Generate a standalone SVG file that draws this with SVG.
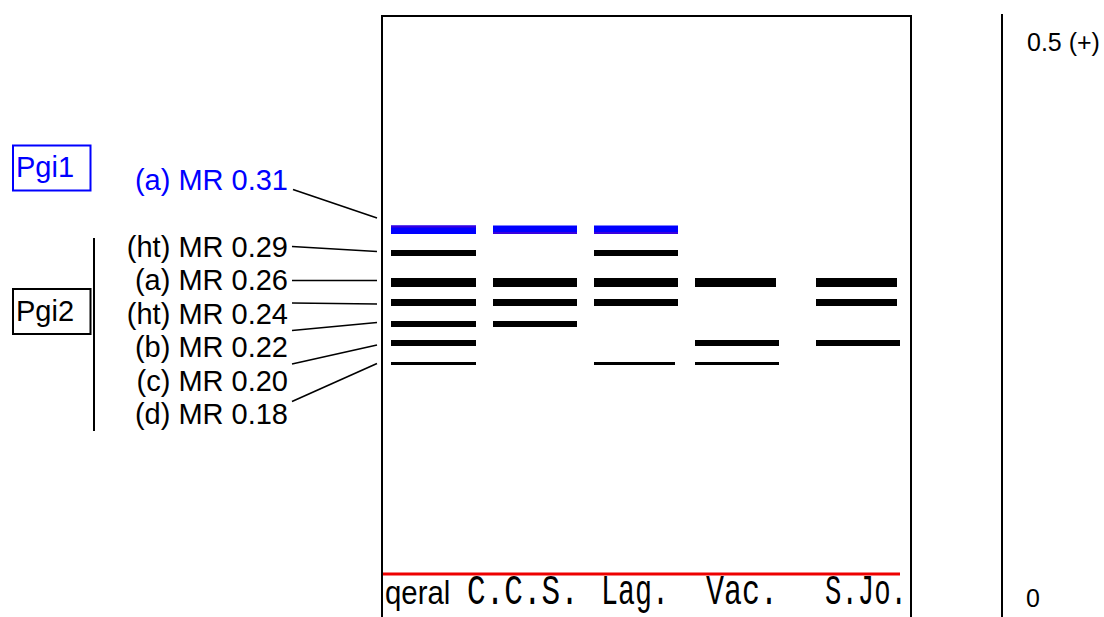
<svg xmlns="http://www.w3.org/2000/svg" width="1104" height="617" viewBox="0 0 1104 617">
  <style>
    .lbl { font-family: "Liberation Sans", Arial, sans-serif; font-size: 29px; fill: #000; }
    .blue { fill: #0000ff; }
    .lead { stroke: #000; stroke-width: 1.6; fill: none; }
    .band { fill: #000; }
    .bband { fill: #0000ff; }
    .tint { fill: #3a00e0; }
    .lane { font-family: "Liberation Mono", "Courier New", monospace; font-size: 42px; fill: #000; }
    .box { fill: #fff; stroke-width: 2; }
  </style>

  <rect width="1104" height="617" fill="#fff"/>

  <!-- isozyme group boxes -->
  <g id="pgi1">
    <rect class="box" x="13" y="145.5" width="77.5" height="45" stroke="#0000ff"/>
    <text class="lbl blue" x="16" y="177">Pgi1</text>
  </g>
  <g id="pgi2">
    <rect class="box" x="13" y="289" width="77.5" height="45" stroke="#000"/>
    <text class="lbl" x="16" y="320.5">Pgi2</text>
    <line x1="94" y1="238" x2="94" y2="431" stroke="#000" stroke-width="2"/>
  </g>

  <!-- allele labels -->
  <g id="labels" text-anchor="end">
    <text class="lbl blue" x="288" y="189.5">(a) MR 0.31</text>
    <text class="lbl" x="288" y="256.5">(ht) MR 0.29</text>
    <text class="lbl" x="288" y="290">(a) MR 0.26</text>
    <text class="lbl" x="288" y="323.5">(ht) MR 0.24</text>
    <text class="lbl" x="288" y="357">(b) MR 0.22</text>
    <text class="lbl" x="288" y="390.5">(c) MR 0.20</text>
    <text class="lbl" x="288" y="424">(d) MR 0.18</text>
  </g>

  <!-- leader lines from labels to band rows -->
  <g id="connectors" class="lead">
    <line x1="293" y1="189.5" x2="377" y2="218"/>
    <line x1="292" y1="246.5" x2="377" y2="251.5"/>
    <line x1="292" y1="280.5" x2="377" y2="280.5"/>
    <line x1="292" y1="303" x2="377" y2="304"/>
    <line x1="292" y1="330.5" x2="377" y2="322.5"/>
    <line x1="292" y1="364" x2="377" y2="345"/>
    <line x1="292" y1="401.5" x2="377" y2="363.5"/>
  </g>

  <!-- gel frame -->
  <g id="gel">
    <path d="M382 620 V16 H911 V620" fill="none" stroke="#000" stroke-width="2"/>
    <line x1="383" y1="574" x2="900" y2="574" stroke="#ee0000" stroke-width="2.8"/>
  </g>

  <!-- Pgi1 bands -->
  <g id="bands-pgi1">
    <rect class="bband" x="391" y="225.5" width="85" height="8.5"/>
    <rect class="tint" x="391" y="225.5" width="85" height="2"/>
    <rect class="bband" x="493" y="225.5" width="84" height="8.5"/>
    <rect class="tint" x="493" y="232" width="84" height="2"/>
    <rect class="bband" x="594" y="225.5" width="84" height="8.5"/>
    <rect class="tint" x="594" y="232" width="84" height="2"/>
  </g>

  <!-- Pgi2 bands -->
  <g id="bands-pgi2" class="band">
    <!-- 0.29 -->
    <rect x="391" y="250" width="85" height="6"/>
    <rect x="594" y="250" width="84" height="6"/>
    <!-- 0.26 -->
    <rect x="391" y="278" width="85" height="9"/>
    <rect x="493" y="278" width="84" height="9"/>
    <rect x="594" y="278" width="84" height="9"/>
    <rect x="695" y="278" width="81" height="9"/>
    <rect x="816" y="278" width="81" height="9"/>
    <!-- 0.24 -->
    <rect x="391" y="299" width="85" height="7"/>
    <rect x="493" y="299" width="84" height="7"/>
    <rect x="594" y="299" width="84" height="7"/>
    <rect x="816" y="299" width="81" height="7"/>
    <!-- 0.22 -->
    <rect x="391" y="321" width="85" height="6"/>
    <rect x="493" y="321" width="84" height="6"/>
    <!-- 0.20 -->
    <rect x="391" y="340" width="85" height="6"/>
    <rect x="695" y="340" width="84" height="6"/>
    <rect x="816" y="340" width="84" height="6"/>
    <!-- 0.18 -->
    <rect x="391" y="362" width="85" height="3"/>
    <rect x="594" y="362" width="81" height="3"/>
    <rect x="695" y="362" width="84" height="3"/>
  </g>

  <!-- population names under the lanes (condensed horizontally) -->
  <g id="lanes">
    <text transform="translate(385 604) scale(0.89 1)" font-family="Liberation Sans, Arial, sans-serif" font-size="33">qeral</text>
    <text class="lane" transform="translate(467 604) scale(0.74 1)">C.C.S.</text>
    <text class="lane" transform="translate(601 604) scale(0.675 1)">Lag.</text>
    <text class="lane" transform="translate(706 604) scale(0.714 1)">Vac.</text>
    <text class="lane" transform="translate(825 604) scale(0.65 1)">S.Jo.</text>
  </g>

  <!-- mobility scale -->
  <g id="scale">
    <line x1="1002" y1="14" x2="1002" y2="617" stroke="#000" stroke-width="2"/>
    <text x="1027" y="51" font-family="Liberation Sans, Arial, sans-serif" font-size="25">0.5 (+)</text>
    <text x="1026" y="607" font-family="Liberation Sans, Arial, sans-serif" font-size="25">0</text>
  </g>
</svg>
